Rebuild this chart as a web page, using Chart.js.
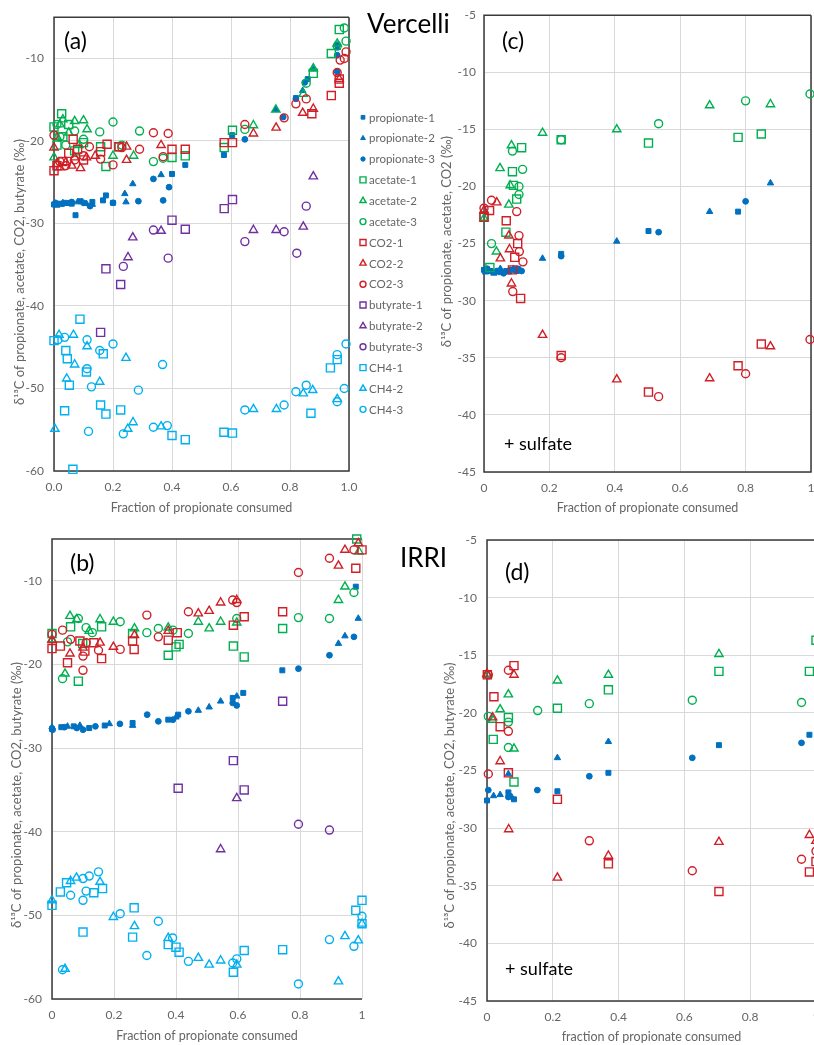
<!DOCTYPE html>
<html>
<head>
<meta charset="utf-8">
<script src="https://cdn.jsdelivr.net/npm/chart.js@4.4.1/dist/chart.umd.min.js"></script>
<style>
  html, body { margin: 0; padding: 0; background: #fff; }
  body { width: 814px; height: 1045px; position: relative; overflow: hidden; }
  .box { position: absolute; }
  .lbl { position: absolute; color: #000; font-family: Lato, sans-serif; white-space: nowrap; line-height: 1; }
</style>
</head>
<body>
<div class="box" style="left:0;top:0"><canvas id="chartA" width="460" height="520"></canvas></div>
<div class="box" style="left:420px;top:0"><canvas id="chartC" width="420" height="520"></canvas></div>
<div class="box" style="left:0;top:520px"><canvas id="chartB" width="400" height="525"></canvas></div>
<div class="box" style="left:400px;top:520px"><canvas id="chartD" width="440" height="525"></canvas></div>

<div class="lbl" style="left:64px;top:29px;font-size:23px">(a)</div>
<div class="lbl" style="left:502px;top:29px;font-size:23px">(c)</div>
<div class="lbl" style="left:70px;top:551px;font-size:23px">(b)</div>
<div class="lbl" style="left:505px;top:560px;font-size:23px">(d)</div>
<div class="lbl" style="left:367px;top:10px;font-size:26px">Vercelli</div>
<div class="lbl" style="left:400px;top:544px;font-size:26px">IRRI</div>
<div class="lbl" style="left:504px;top:434px;font-size:18px">+ sulfate</div>
<div class="lbl" style="left:505px;top:959px;font-size:18px">+ sulfate</div>

<script>
// series (same order in every panel)
const seriesNames = ["propionate-1", "propionate-2", "propionate-3",
  "acetate-1", "acetate-2", "acetate-3",
  "CO2-1", "CO2-2", "CO2-3",
  "butyrate-1", "butyrate-2", "butyrate-3",
  "CH4-1", "CH4-2", "CH4-3"];

// ticks
const xTicks = [0, 0.2, 0.4, 0.6, 0.8, 1];
const xLabelsA = ["0.0", "0.2", "0.4", "0.6", "0.8", "1.0"];
const xLabelsB = ["0", "0.2", "0.4", "0.6", "0.8", "1"];
const yTicksAB = [-60, -50, -40, -30, -20, -10];
const yTicksCD = [-45, -40, -35, -30, -25, -20, -15, -10, -5];

// (a) Vercelli  [fraction consumed, d13C]
const aProp1 = [[0,-27.7],[0.02,-27.6],[0.04,-27.5],[0.06,-27.6],[0.073,-29.0],[0.09,-27.3],[0.13,-27.4],[0.166,-27.2],[0.176,-26.6],[0.2,-27.5],[0.40,-24.0],[0.445,-22.9],[0.576,-21.7],[0.604,-19.3],[0.82,-14.8],[0.86,-12.5],[0.96,-8.3]];
const aProp2 = [[0.01,-27.8],[0.03,-27.5],[0.05,-27.6],[0.08,-27.4],[0.11,-27.6],[0.13,-27.7],[0.24,-26.4],[0.244,-27.4],[0.267,-25.2],[0.363,-24.1],[0.752,-16.2],[0.843,-13.9],[0.879,-11.3],[0.96,-8.7]];
const aProp3 = [[0.005,-27.5],[0.03,-27.6],[0.06,-27.4],[0.1,-27.5],[0.122,-27.9],[0.2,-27.5],[0.286,-27.3],[0.337,-24.6],[0.37,-27.2],[0.39,-25.6],[0.647,-19.8],[0.777,-17.1],[0.82,-14.9],[0.85,-12.9],[0.96,-11.6],[0.96,-9.6]];
const aAce1 = [[0,-18.3],[0.01,-20.5],[0.026,-16.7],[0.03,-19.5],[0.05,-18.0],[0.07,-21.2],[0.1,-20.2],[0.158,-20.7],[0.176,-23.1],[0.22,-20.7],[0.40,-22.0],[0.445,-21.8],[0.577,-20.8],[0.605,-18.7],[0.879,-11.8],[0.94,-9.4],[0.967,-6.5]];
const aAce2 = [[0,-22.0],[0.01,-19.5],[0.02,-18.0],[0.03,-17.4],[0.05,-19.0],[0.07,-17.6],[0.085,-20.5],[0.1,-17.5],[0.112,-18.6],[0.2,-21.8],[0.27,-21.8],[0.676,-18.1],[0.752,-16.2],[0.845,-14.3],[0.879,-11.2],[0.96,-8.2]];
const aAce3 = [[0.01,-18.0],[0.02,-19.5],[0.04,-20.5],[0.07,-18.8],[0.1,-19.8],[0.155,-18.9],[0.2,-17.7],[0.23,-20.5],[0.29,-18.8],[0.337,-22.5],[0.37,-22.1],[0.647,-18.6],[0.855,-13.0],[0.96,-8.5],[0.984,-6.3],[0.99,-7.9]];
const aCO2_1 = [[0,-23.6],[0.01,-23.0],[0.03,-22.5],[0.05,-21.5],[0.065,-19.8],[0.08,-21.0],[0.1,-22.3],[0.158,-21.3],[0.18,-20.4],[0.22,-20.7],[0.40,-21.0],[0.445,-21.0],[0.577,-20.2],[0.605,-20.2],[0.874,-16.7],[0.94,-14.5],[0.967,-13.0],[0.967,-12.5]];
const aCO2_2 = [[0,-20.8],[0.01,-22.8],[0.02,-23.2],[0.04,-22.6],[0.06,-23.0],[0.07,-22.0],[0.09,-23.3],[0.11,-22.0],[0.14,-21.8],[0.246,-20.7],[0.246,-22.3],[0.363,-20.5],[0.676,-19.1],[0.753,-18.4],[0.843,-16.6],[0.879,-16.1],[0.967,-12.5]];
const aCO2_3 = [[0,-19.3],[0.02,-22.5],[0.04,-23.0],[0.07,-22.3],[0.1,-21.8],[0.12,-20.7],[0.158,-22.2],[0.2,-22.9],[0.23,-20.8],[0.29,-21.0],[0.337,-19.0],[0.37,-21.9],[0.387,-19.1],[0.647,-18.0],[0.78,-17.2],[0.82,-15.5],[0.855,-14.9],[0.96,-11.7],[0.97,-10.2],[0.984,-10.0],[0.99,-9.2]];
const aBut1 = [[0.158,-43.2],[0.176,-35.5],[0.226,-37.4],[0.40,-29.6],[0.445,-30.7],[0.577,-28.2],[0.605,-27.1]];
const aBut2 = [[0.251,-34.1],[0.267,-31.7],[0.363,-30.9],[0.676,-30.8],[0.753,-30.8],[0.845,-30.4],[0.879,-24.3]];
const aBut3 = [[0.235,-35.2],[0.337,-30.8],[0.387,-34.2],[0.647,-32.2],[0.78,-31.0],[0.823,-33.6],[0.855,-27.9]];
const aCH4_1 = [[0,-44.2],[0.036,-52.7],[0.04,-45.4],[0.045,-46.4],[0.052,-49.6],[0.064,-59.8],[0.088,-41.6],[0.11,-48.0],[0.158,-52.0],[0.167,-45.8],[0.176,-53.1],[0.226,-52.6],[0.40,-55.7],[0.445,-56.2],[0.576,-55.3],[0.605,-55.4],[0.871,-53.0],[0.937,-47.5],[0.96,-46.5]];
const aCH4_2 = [[0.003,-54.9],[0.017,-43.5],[0.043,-48.8],[0.066,-43.5],[0.07,-47.1],[0.112,-44.9],[0.155,-49.2],[0.244,-46.3],[0.25,-54.9],[0.268,-54.1],[0.363,-54.6],[0.676,-52.5],[0.754,-52.5],[0.845,-50.6],[0.877,-50.2],[0.96,-51.3]];
const aCH4_3 = [[0.013,-44.1],[0.036,-43.8],[0.112,-44.1],[0.112,-47.6],[0.117,-55.2],[0.127,-49.8],[0.155,-45.4],[0.2,-44.6],[0.235,-55.5],[0.286,-50.2],[0.337,-54.7],[0.368,-47.1],[0.384,-54.5],[0.647,-52.6],[0.78,-52.0],[0.82,-50.4],[0.855,-49.6],[0.96,-51.6],[0.96,-45.9],[0.984,-50.0],[0.99,-44.6]];

// (c) Vercelli + sulfate
const cProp1 = [[0,-27.3],[0.02,-27.4],[0.05,-27.5],[0.068,-27.4],[0.087,-27.3],[0.1,-27.4],[0.236,-25.9],[0.503,-23.9],[0.777,-22.2]];
const cProp2 = [[0.005,-27.5],[0.03,-27.6],[0.05,-27.2],[0.075,-27.5],[0.09,-27.2],[0.11,-27.3],[0.179,-26.3],[0.406,-24.8],[0.69,-22.2],[0.876,-19.7]];
const cProp3 = [[0.01,-27.2],[0.04,-27.4],[0.06,-27.6],[0.08,-27.3],[0.103,-27.2],[0.115,-27.4],[0.236,-26.1],[0.534,-24.0],[0.80,-21.3]];
const cAce1 = [[0,-22.6],[0.018,-27.1],[0.067,-24.0],[0.087,-18.7],[0.09,-19.9],[0.1,-21.1],[0.115,-16.6],[0.236,-15.9],[0.503,-16.2],[0.777,-15.7],[0.848,-15.4]];
const cAce2 = [[0,-22.8],[0.038,-25.7],[0.049,-18.4],[0.076,-21.6],[0.08,-19.9],[0.084,-16.4],[0.179,-15.3],[0.406,-15.0],[0.69,-12.9],[0.876,-12.8]];
const cAce3 = [[0.023,-25.0],[0.087,-16.9],[0.107,-20.0],[0.107,-20.7],[0.118,-18.5],[0.236,-15.9],[0.534,-14.5],[0.80,-12.5],[0.997,-11.9]];
const cCO2_1 = [[0,-22.7],[0.017,-22.1],[0.068,-23.0],[0.087,-27.3],[0.094,-26.2],[0.103,-25.0],[0.112,-29.8],[0.236,-34.8],[0.503,-38.0],[0.777,-35.7],[0.848,-33.8]];
const cCO2_2 = [[0,-22.1],[0.039,-21.4],[0.05,-26.3],[0.076,-24.3],[0.078,-25.5],[0.084,-28.5],[0.179,-33.0],[0.406,-36.9],[0.69,-36.8],[0.876,-34.0]];
const cCO2_3 = [[0,-21.9],[0.023,-21.2],[0.088,-29.2],[0.1,-22.2],[0.107,-24.3],[0.108,-25.7],[0.119,-26.6],[0.236,-35.0],[0.534,-38.4],[0.80,-36.4],[0.997,-33.4]];

// (b) IRRI
const bProp1 = [[0,-27.7],[0.03,-27.5],[0.07,-27.4],[0.12,-27.6],[0.17,-27.3],[0.26,-27.0],[0.375,-26.6],[0.407,-26.0],[0.583,-24.0],[0.617,-23.4],[0.743,-20.7],[0.98,-10.7]];
const bProp2 = [[0,-27.5],[0.05,-27.4],[0.09,-27.3],[0.185,-27.1],[0.26,-27.3],[0.40,-26.3],[0.472,-25.5],[0.507,-25.1],[0.544,-24.4],[0.596,-23.8],[0.924,-17.5],[0.945,-16.6],[0.988,-14.5]];
const bProp3 = [[0.002,-27.8],[0.04,-27.5],[0.08,-27.6],[0.1,-27.8],[0.14,-27.4],[0.219,-27.1],[0.307,-26.0],[0.343,-26.8],[0.39,-26.6],[0.44,-25.6],[0.583,-24.6],[0.596,-24.9],[0.795,-20.5],[0.895,-18.9],[0.974,-16.7]];
const bAce1 = [[0,-16.3],[0.06,-15.5],[0.085,-22.0],[0.099,-17.5],[0.16,-15.5],[0.26,-16.3],[0.375,-18.9],[0.40,-17.9],[0.41,-17.6],[0.585,-17.8],[0.62,-19.1],[0.744,-15.7],[0.983,-5.0]];
const bAce2 = [[0,-17.0],[0.042,-21.1],[0.058,-14.2],[0.08,-14.6],[0.12,-16.0],[0.155,-14.6],[0.198,-14.9],[0.266,-15.7],[0.375,-15.6],[0.472,-14.9],[0.507,-15.7],[0.544,-14.9],[0.596,-15.0],[0.924,-12.3],[0.945,-10.7],[0.99,-6.5]];
const bAce3 = [[0.034,-21.7],[0.05,-17.3],[0.085,-14.5],[0.11,-15.6],[0.13,-16.2],[0.22,-14.9],[0.306,-16.2],[0.343,-15.7],[0.39,-15.9],[0.44,-16.3],[0.596,-14.5],[0.795,-14.4],[0.895,-14.5],[0.974,-11.4]];
const bCO2_1 = [[0,-18.1],[0.027,-17.8],[0.05,-19.8],[0.09,-17.2],[0.106,-18.4],[0.135,-17.4],[0.16,-19.3],[0.26,-17.2],[0.265,-18.2],[0.375,-17.1],[0.404,-16.2],[0.585,-15.3],[0.62,-14.3],[0.744,-13.7],[0.98,-8.5],[1.0,-6.3]];
const bCO2_2 = [[0,-17.1],[0.058,-18.7],[0.1,-18.0],[0.155,-17.4],[0.198,-17.9],[0.266,-16.5],[0.375,-16.0],[0.472,-13.9],[0.507,-13.6],[0.544,-12.6],[0.596,-12.3],[0.924,-8.2],[0.945,-6.3],[0.988,-5.5]];
const bCO2_3 = [[0,-16.4],[0.034,-15.9],[0.06,-17.0],[0.1,-19.0],[0.1,-20.7],[0.11,-17.4],[0.15,-18.3],[0.22,-18.2],[0.306,-14.1],[0.343,-16.7],[0.44,-13.7],[0.583,-12.3],[0.596,-12.6],[0.795,-9.0],[0.895,-7.3],[0.974,-6.3]];
const bBut1 = [[0.407,-34.8],[0.585,-31.5],[0.62,-35.0],[0.744,-24.4]];
const bBut2 = [[0.544,-42.1],[0.596,-36.0]];
const bBut3 = [[0.795,-39.1],[0.895,-39.8]];
const bCH4_1 = [[0,-48.8],[0.027,-47.2],[0.047,-46.1],[0.1,-52.0],[0.135,-47.3],[0.163,-46.8],[0.26,-52.6],[0.265,-49.1],[0.375,-53.5],[0.40,-53.8],[0.41,-54.4],[0.585,-56.8],[0.62,-54.2],[0.744,-54.1],[0.98,-49.4],[1.0,-48.2],[1.0,-51.0]];
const bCH4_2 = [[0,-48.2],[0.042,-56.4],[0.06,-45.9],[0.079,-45.5],[0.155,-46.0],[0.198,-50.2],[0.266,-51.3],[0.375,-52.7],[0.472,-55.1],[0.507,-55.9],[0.544,-55.4],[0.596,-55.9],[0.924,-57.9],[0.945,-52.5],[0.988,-53.0],[1.0,-51.0]];
const bCH4_3 = [[0.034,-56.5],[0.06,-47.6],[0.1,-48.2],[0.1,-45.6],[0.11,-47.1],[0.12,-45.3],[0.15,-44.8],[0.22,-49.8],[0.306,-54.8],[0.343,-50.7],[0.389,-52.7],[0.44,-55.5],[0.583,-55.7],[0.596,-55.2],[0.795,-58.2],[0.895,-52.9],[0.974,-53.7],[1.0,-50.1]];

// (d) IRRI + sulfate
const dProp1 = [[0,-27.6],[0.065,-26.9],[0.082,-27.5],[0.214,-26.8],[0.369,-25.2],[0.705,-22.8],[0.98,-21.9]];
const dProp2 = [[0.02,-27.2],[0.04,-27.1],[0.065,-25.3],[0.075,-27.3],[0.214,-23.9],[0.369,-22.5]];
const dProp3 = [[0.004,-26.7],[0.065,-27.3],[0.153,-26.7],[0.311,-25.5],[0.624,-23.9],[0.956,-22.6]];
const dAce1 = [[0.019,-22.3],[0.065,-20.4],[0.082,-26.0],[0.214,-19.6],[0.369,-18.0],[0.705,-16.4],[0.98,-16.4],[1.0,-13.7]];
const dAce2 = [[0.001,-16.7],[0.017,-20.6],[0.04,-19.7],[0.065,-18.4],[0.082,-23.1],[0.214,-17.2],[0.369,-16.7],[0.705,-14.9]];
const dAce3 = [[0.004,-20.3],[0.065,-20.8],[0.065,-23.0],[0.154,-19.8],[0.311,-19.2],[0.624,-18.9],[0.956,-19.1]];
const dCO2_1 = [[0.001,-16.7],[0.021,-18.6],[0.04,-21.2],[0.065,-25.2],[0.082,-15.9],[0.214,-27.5],[0.369,-33.1],[0.705,-35.5],[0.98,-33.8],[1.0,-32.9]];
const dCO2_2 = [[0,-16.6],[0.017,-20.4],[0.04,-24.2],[0.066,-30.1],[0.082,-16.7],[0.214,-34.3],[0.369,-32.4],[0.705,-31.2],[0.98,-30.6],[1.0,-31.1]];
const dCO2_3 = [[0.004,-16.7],[0.004,-25.3],[0.065,-16.3],[0.065,-21.6],[0.311,-31.1],[0.624,-33.7],[0.956,-32.7],[1.0,-32.0]];

// marker styles per series
const seriesColor = ["#0070C0", "#0070C0", "#0070C0", "#00B050", "#00B050", "#00B050",
  "#D01F26", "#D01F26", "#D01F26", "#7030A0", "#7030A0", "#7030A0", "#00B0F0", "#00B0F0", "#00B0F0"];
const shapes = ["rect", "triangle", "circle"];
const openRadius = { rect: 5.7, triangle: 4.8, circle: 4.0 };
const fillRadius = { rect: 3.5, triangle: 3.7, circle: 2.9 };

const grey = "#666666";
const tickFont = { family: "Lato", size: 12 };

function drawMarker(ctx, i, x, y, k) {
  const shape = shapes[i % 3];
  const filled = i < 3;
  const r = (filled ? fillRadius[shape] : openRadius[shape]) * k;
  ctx.beginPath();
  if (shape === "rect") {
    const s = Math.SQRT1_2 * r;
    ctx.rect(x - s, y - s, 2 * s, 2 * s);
  } else if (shape === "triangle") {
    ctx.moveTo(x, y - r);
    ctx.lineTo(x + 0.866 * r, y + 0.5 * r);
    ctx.lineTo(x - 0.866 * r, y + 0.5 * r);
    ctx.closePath();
  } else {
    ctx.arc(x, y, r, 0, Math.PI * 2);
  }
  ctx.strokeStyle = seriesColor[i];
  ctx.lineWidth = filled ? 1 : 1.4;
  if (filled) { ctx.fillStyle = seriesColor[i]; ctx.fill(); }
  ctx.stroke();
}

// plot frame
const framePlugin = {
  id: "frame",
  beforeDatasetsDraw(chart, args, opts) {
    const a = chart.chartArea, ctx = chart.ctx;
    ctx.save();
    ctx.strokeStyle = "#3a3a3a";
    ctx.lineWidth = 1.5;
    ctx.beginPath();
    ctx.moveTo(a.right, a.top);
    ctx.lineTo(a.left, a.top);
    ctx.lineTo(a.left, a.bottom);
    ctx.lineTo(a.right, a.bottom);
    if (opts.right !== false) ctx.lineTo(a.right, a.top);
    ctx.stroke();
    ctx.restore();
  }
};

// rotated y title
const yTitlePlugin = {
  id: "yTitle",
  afterDraw(chart, args, opts) {
    const a = chart.chartArea, ctx = chart.ctx;
    ctx.save();
    ctx.translate(opts.x, (a.top + a.bottom) / 2 + opts.shift);
    ctx.rotate(-Math.PI / 2);
    ctx.font = "13px Lato";
    ctx.fillStyle = grey;
    ctx.textAlign = "center";
    ctx.textBaseline = "middle";
    ctx.fillText(opts.text, 0, 0);
    ctx.restore();
  }
};

// legend at the right of panel (a)
const sideLegend = {
  id: "sideLegend",
  afterDraw(chart, args, opts) {
    const ctx = chart.ctx;
    ctx.save();
    ctx.font = "11.5px Lato";
    ctx.textBaseline = "middle";
    seriesNames.forEach(function (name, i) {
      const y = opts.y0 + i * opts.dy;
      drawMarker(ctx, i, opts.x, y, 0.75);
      ctx.fillStyle = grey;
      ctx.fillText(name, opts.x + 6, y + 0.5);
    });
    ctx.restore();
  }
};

function makePanel(id, cfg) {
  const datasets = cfg.series.map(function (pts, i) {
    const shape = shapes[i % 3];
    const filled = i < 3;
    return {
      label: seriesNames[i],
      data: pts.map(function (p) { return { x: p[0], y: p[1] }; }),
      pointStyle: shape,
      pointRadius: filled ? fillRadius[shape] : openRadius[shape],
      pointBorderWidth: filled ? 1 : 1.4,
      pointBorderColor: seriesColor[i],
      pointBackgroundColor: filled ? seriesColor[i] : "rgba(0,0,0,0)",
      showLine: false,
      clip: false,
      order: 20 - i
    };
  });

  const plugins = [framePlugin, yTitlePlugin];
  if (cfg.legend) plugins.push(sideLegend);

  return new Chart(document.getElementById(id), {
    type: "scatter",
    data: { datasets: datasets },
    plugins: plugins,
    options: {
      responsive: false,
      animation: false,
      events: [],
      layout: { padding: { top: cfg.pad.top, right: cfg.pad.right, left: 0, bottom: 0 } },
      plugins: {
        legend: { display: false },
        tooltip: { enabled: false },
        frame: { right: cfg.frameRight },
        yTitle: { text: cfg.yTitle, x: cfg.yTitleX, shift: cfg.yTitleShift },
        sideLegend: { x: 363, y0: 117.3, dy: 20.86 }
      },
      scales: {
        x: {
          type: "linear", min: 0, max: 1,
          afterBuildTicks: function (s) { s.ticks = xTicks.map(function (v) { return { value: v }; }); },
          afterFit: function (s) { s.height = cfg.xh; },
          ticks: {
            color: grey, font: tickFont, padding: 9, maxRotation: 0, autoSkip: false,
            callback: function (v, i) { return cfg.xLabels[i]; }
          },
          grid: { color: "#D9D9D9", lineWidth: 1, drawTicks: false },
          border: { display: false },
          title: {
            display: true, text: cfg.xTitle, color: grey,
            font: { family: "Lato", size: 12.5 }, padding: { top: 0, bottom: cfg.xtPad }
          }
        },
        y: {
          type: "linear", min: cfg.yMin, max: -5,
          afterBuildTicks: function (s) { s.ticks = cfg.yTicks.map(function (v) { return { value: v }; }); },
          afterFit: function (s) { s.width = cfg.yw; },
          ticks: {
            color: grey, font: tickFont, padding: cfg.ytPad, autoSkip: false,
            callback: function (v) { return String(v); }
          },
          grid: { color: "#D9D9D9", lineWidth: 1, drawTicks: false },
          border: { display: false }
        }
      }
    }
  });
}

const yTitleLong = "\u03B4\u00B9\u00B3C of propionate, acetate, CO2, butyrate (\u2030)";
const yTitleShort = "\u03B4\u00B9\u00B3C of propionate, acetate, CO2 (\u2030)";

makePanel("chartA", {
  series: [aProp1, aProp2, aProp3, aAce1, aAce2, aAce3, aCO2_1, aCO2_2, aCO2_3, aBut1, aBut2, aBut3, aCH4_1, aCH4_2, aCH4_3],
  pad: { top: 13, right: 111 }, yw: 54, xh: 49, ytPad: 10, xtPad: 5,
  yMin: -60, yTicks: yTicksAB, xLabels: xLabelsA,
  xTitle: "Fraction of propionate consumed",
  yTitle: yTitleLong, yTitleX: 20, yTitleShift: 28, legend: true
});

makePanel("chartC", {
  series: [cProp1, cProp2, cProp3, cAce1, cAce2, cAce3, cCO2_1, cCO2_2, cCO2_3, [], [], [], [], [], []],
  pad: { top: 13, right: 29 }, yw: 64, xh: 48, ytPad: 8, xtPad: 5,
  yMin: -45, yTicks: yTicksCD, xLabels: xLabelsB,
  xTitle: "Fraction of propionate consumed",
  yTitle: yTitleShort, yTitleX: 27, yTitleShift: -2
});

makePanel("chartB", {
  series: [bProp1, bProp2, bProp3, bAce1, bAce2, bAce3, bCO2_1, bCO2_2, bCO2_3, bBut1, bBut2, bBut3, bCH4_1, bCH4_2, bCH4_3],
  pad: { top: 19, right: 38 }, yw: 52, xh: 46, ytPad: 10, xtPad: 2,
  yMin: -60, yTicks: yTicksAB, xLabels: xLabelsB, frameRight: false,
  xTitle: "Fraction of propionate consumed",
  yTitle: yTitleLong, yTitleX: 17, yTitleShift: 26
});

makePanel("chartD", {
  series: [dProp1, dProp2, dProp3, dAce1, dAce2, dAce3, dCO2_1, dCO2_2, dCO2_3, [], [], [], [], [], []],
  pad: { top: 20, right: 24 }, yw: 87, xh: 44, ytPad: 10, xtPad: 1,
  yMin: -45, yTicks: yTicksCD, xLabels: xLabelsB,
  xTitle: "fraction of propionate consumed",
  yTitle: yTitleLong, yTitleX: 50, yTitleShift: 25
});
</script>
</body>
</html>
